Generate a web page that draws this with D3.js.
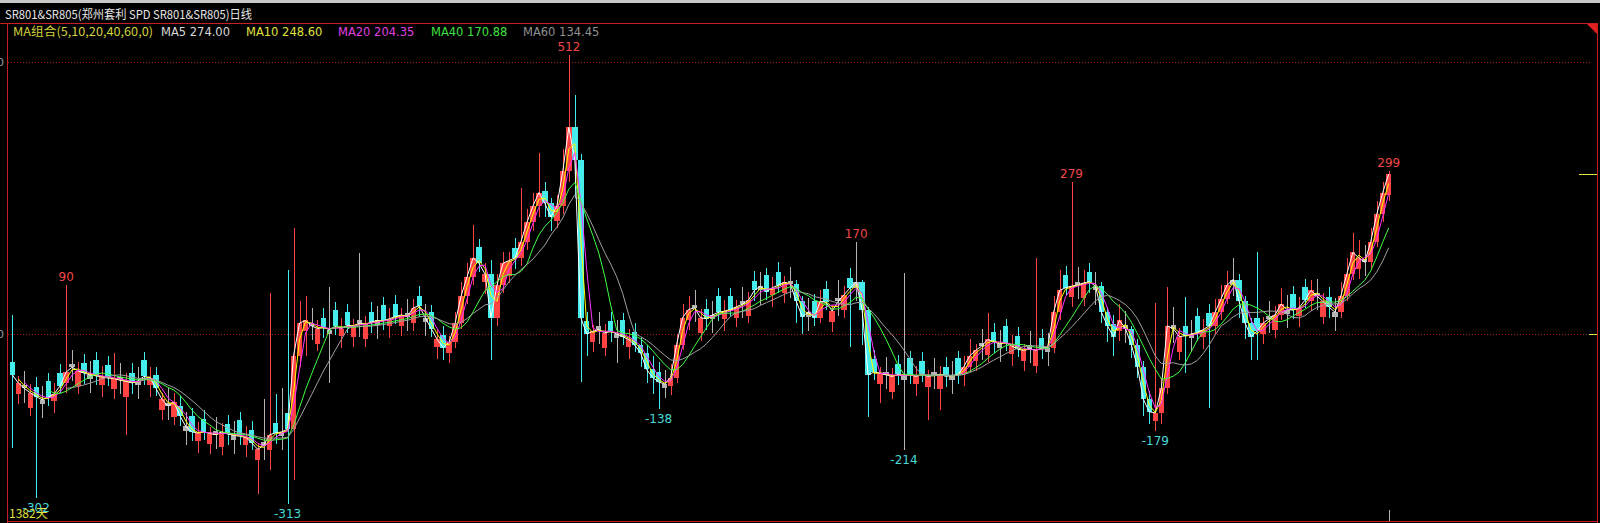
<!DOCTYPE html>
<html><head><meta charset="utf-8">
<script src="https://cdn.jsdelivr.net/npm/d3@7"></script>
<style>html,body{margin:0;padding:0;background:#000;overflow:hidden}</style>
</head><body><svg id="c" width="1600" height="523"></svg>
<script>
// 6-day aggregated bars (1382 daily bars in the original)
const opens = [
-51,-110,-94,-136,-97,-129,-86,-124,-71,-90,
-55,-96,-54,-83,-47,-93,-57,-102,-79,-115,
-72,-94,-48,-94,-76,-140,-126,-153,-132,-178,
-150,-196,-156,-203,-179,-208,-166,-194,-158,-204,
-176,-232,-199,-213,-164,-188,-145,-175,-40,5,
21,-18,30,0,44,-4,40,-5,26,-10,
40,17,54,14,56,15,38,20,70,22,
40,-24,-1,-35,-15,20,70,105,160,96,
110,30,90,107,158,140,170,205,235,262,
240,207,235,300,380,320,24,-15,14,-26,
23,-8,25,-24,4,-20,-35,-65,-70,-100,
-95,-80,-20,25,54,2,46,27,70,28,
69,30,61,34,98,80,108,71,114,75,
98,92,60,32,60,30,82,22,66,44,
103,85,95,45,-46,-92,-69,-106,-56,-84,
-45,-92,-50,-98,-70,-102,-60,-84,-45,-74,
-60,-50,-16,-38,3,-26,14,-36,-4,-50,
-21,-58,-8,-33,-25,40,109,68,96,66,
114,80,88,40,19,5,16,10,-20,-60,
-120,-160,-145,-100,16,-33,15,-8,33,-6,
39,15,40,65,90,100,60,20,29,0,
34,7,35,37,74,34,86,60,76,32,
68,32,40,70,110,120,138,132,170,220,
255];
const highs = [
35,-78,-68,-92,-79,-95,-72,-90,-55,90,
-29,-52,-36,-49,-33,-59,-41,-35,-53,-71,
-54,-60,-34,-60,-60,-108,-100,-109,-114,-144,
-136,-162,-140,-171,-153,-164,-148,-160,-144,-170,
-160,-200,-120,75,-110,-100,118,195,60,70,
47,26,48,86,58,30,56,27,149,34,
58,51,68,48,72,47,64,64,88,56,
54,10,15,-3,40,95,130,200,174,130,
136,110,150,151,176,268,230,260,333,280,
250,255,340,512,440,330,40,17,40,18,
41,26,39,10,20,-5,-20,-40,-52,-66,
-55,0,55,70,80,46,64,61,84,62,
85,62,87,78,116,114,122,105,132,107,
124,100,70,66,74,80,98,54,99,88,
121,170,100,50,-30,-60,-43,-62,-38,112,
-31,-58,-34,-66,-44,-58,-42,-50,-31,-40,
-10,-18,10,39,21,8,28,-2,12,-18,
5,140,10,1,70,118,125,279,123,118,
130,114,95,50,35,55,42,15,-10,-50,
-105,57,-80,86,50,11,68,26,47,28,
55,65,90,115,140,110,70,30,151,32,
60,51,85,71,88,68,102,100,102,76,
86,66,95,140,186,172,164,195,245,280,
299];
const lows = [
-210,-128,-126,-150,-302,-155,-132,-146,-109,-108,
-87,-110,-92,-109,-93,-115,-95,-120,-111,-186,
-110,-120,-94,-116,-114,-158,-158,-167,-170,-204,
-196,-218,-194,-221,-211,-222,-204,-220,-204,-226,
-214,-295,-231,-250,-202,-214,-313,-268,-60,-40,
-11,-32,-8,-90,-2,-26,2,-23,-6,-24,
2,-9,8,-8,18,-3,6,6,32,-4,
-6,-46,-48,-53,-25,10,55,90,114,74,
-48,15,75,93,120,125,155,190,215,215,
190,195,220,280,250,-88,-40,-33,-18,-40,
-15,-53,-21,-46,-34,-60,-90,-110,-138,-118,
-112,-90,-30,7,22,-12,8,1,24,6,
31,12,29,20,60,54,62,49,76,57,
66,20,0,6,14,20,44,4,34,30,
-24,60,-20,-153,-84,-127,-101,-120,-94,-214,
-91,-114,-88,-158,-102,-140,-98,-110,-91,-96,
-70,-68,-48,-52,-35,-52,-32,-58,-42,-68,
-53,-72,-46,-59,-35,25,71,50,64,52,
76,54,20,-15,-40,-13,-16,-45,-80,-150,
-165,-179,-165,-110,-16,-47,-72,-34,-13,-28,
-136,0,25,55,70,30,-10,-48,-48,-18,
2,-7,25,11,28,12,48,42,44,18,
30,6,30,60,100,102,106,120,160,205,
245];
const closes = [
-75,-90,-100,-108,-115,-121,-116,-110,-95,-70,
-61,-68,-72,-75,-77,-79,-81,-82,-85,-87,
-90,-86,-78,-80,-100,-120,-132,-125,-150,-170,
-180,-182,-180,-183,-185,-180,-184,-186,-188,-190,
-200,-212,-205,-185,-182,-180,-175,-40,20,25,
15,10,12,8,14,10,16,15,20,18,
22,25,24,28,32,35,32,48,52,30,
10,-10,-25,-15,20,70,105,140,130,110,
30,90,130,135,140,170,205,235,260,240,
215,235,300,380,320,30,0,5,8,2,
5,0,-5,-10,-20,-35,-65,-80,-88,-92,
-80,-20,30,45,48,30,28,35,40,42,
45,50,55,62,80,88,78,85,90,95,
92,60,32,40,30,60,58,42,60,72,
85,95,45,-75,-70,-72,-75,-78,-74,-76,
-75,-78,-74,-78,-76,-74,-78,-76,-75,-60,
-40,-30,-22,-10,-15,-18,-16,-22,-28,-30,
-27,-30,-26,-25,40,80,85,88,90,94,
96,88,40,15,-5,25,10,-20,-60,-120,
-143,-145,-100,15,10,-5,-3,0,3,8,
15,40,65,90,100,60,20,-5,5,20,
28,35,55,45,44,48,62,80,70,60,
50,40,70,110,150,140,132,170,220,260,
294];

const maNames = ["MA5","MA10","MA20","MA40","MA60"];
const maLegendValues = ["274.00","248.60","204.35","170.88","134.45"];
const maWindowsInBars = [1,2,3,7,10];   // 5,10,20,40,60 days over 6-day bars
const gridValues = [0, 500];
const markIndex = [4, 9, 46, 93, 108, 141, 149, 177, 191, 230];
const markType  = ["low","high","low","high","low","high","low","high","low","high"];
const titleText = "SR801&SR805(郑州套利 SPD SR801&SR805)日线";
const comboText = "MA组合(5,10,20,40,60,0)";
const dayCountText = "1382天";

const W = 1600, H = 523;
const svg = d3.select("#c");
const n = closes.length;
const x = d3.scaleBand().domain(d3.range(n)).range([9, 1392]).padding(0.1);
const cx = i => x(i) + x.bandwidth() / 2;
const y = d3.scaleLinear().domain([0, 500]).range([334, 62]);

svg.append("rect").attr("width", W).attr("height", H).attr("fill", "#000");
// title bar
svg.append("rect").attr("x",0).attr("y",0).attr("width",W).attr("height",3).attr("fill","#c8c8c8");
svg.append("text").attr("x",5).attr("y",19).attr("fill","#e6e6e6")
  .attr("font-family","'Noto Sans CJK SC', 'DejaVu Sans'").attr("font-size",12)
  .attr("textLength",247).attr("lengthAdjust","spacingAndGlyphs").text(titleText);

// grid lines
svg.selectAll(".grid").data(gridValues).enter().append("line")
  .attr("x1", 8).attr("x2", 1592).attr("y1", d => y(d) + 0.5).attr("y2", d => y(d) + 0.5)
  .attr("stroke", "#a81c1c").attr("stroke-dasharray", "1,2");
svg.selectAll(".glab").data(gridValues).enter().append("text")
  .attr("x", 4).attr("y", d => y(d) + 4).attr("text-anchor", "end")
  .attr("fill", "#a0a0a0").attr("font-family", "DejaVu Sans").attr("font-size", 11)
  .text(d => d);

// candles
const colorOf = i => {
  const d = closes[i] - opens[i];
  if (d > 10) return "#ff4242";
  if (d < -10) return "#44ecec";
  return "#b4b4b4";
};
const g = svg.append("g").attr("shape-rendering", "crispEdges");
g.selectAll(".wick").data(d3.range(n)).enter().append("line")
  .attr("x1", i => Math.round(cx(i)) + 0.5).attr("x2", i => Math.round(cx(i)) + 0.5)
  .attr("y1", i => y(highs[i])).attr("y2", i => y(lows[i]))
  .attr("stroke", colorOf).attr("stroke-width", 1);
g.selectAll(".body").data(d3.range(n)).enter().append("rect")
  .attr("x", i => x(i)).attr("width", x.bandwidth())
  .attr("y", i => y(Math.max(opens[i], closes[i])))
  .attr("height", i => Math.max(1, Math.abs(y(opens[i]) - y(closes[i]))))
  .attr("fill", colorOf);

// moving averages
const maColors = ["#ffffff", "#ffff00", "#ff30ff", "#40ff40", "#a0a0a0"];
maWindowsInBars.forEach((w, k) => {
  const pts = [];
  for (let i = w - 1; i < n; i++) {
    pts.push([cx(i), y(d3.mean(closes.slice(i - w + 1, i + 1)))]);
  }
  svg.append("path").attr("d", d3.line()(pts)).attr("fill", "none")
    .attr("stroke", maColors[k]).attr("stroke-width", 1);
});

// legend
const legFont = "'DejaVu Sans', Verdana, sans-serif";
svg.append("text").attr("x", 13).attr("y", 36).attr("fill", "#d2d23c")
  .attr("font-family", "'Noto Sans CJK SC', 'DejaVu Sans'").attr("font-size", 12)
  .attr("textLength", 140).attr("lengthAdjust", "spacingAndGlyphs").text(comboText);
const legX = [161, 246, 338, 431, 523];
const legColors = ["#d8d8d8", "#e0e040", "#e040e0", "#40e040", "#909090"];
maNames.forEach((nm, k) => {
  svg.append("text").attr("x", legX[k]).attr("y", 36).attr("fill", legColors[k])
    .attr("font-family", legFont).attr("font-size", 11.5).text(nm + " " + maLegendValues[k]);
});

// high / low marks
markIndex.forEach((i, k) => {
  const hi = markType[k] === "high";
  const v = hi ? highs[i] : lows[i];
  svg.append("text").attr("x", cx(i)).attr("y", hi ? y(v) - 4 : y(v) + 14)
    .attr("text-anchor", "middle").attr("fill", hi ? "#f04848" : "#48d8d8")
    .attr("font-family", legFont).attr("font-size", 12).text(v);
});

svg.append("text").attr("x", 9).attr("y", 518).attr("fill", "#e0e040")
  .attr("font-family", "'Noto Sans CJK SC', 'DejaVu Sans'").attr("font-size", 12).text(dayCountText);

// frame
const red = "#c81e1e";
const fr = svg.append("g").attr("shape-rendering", "crispEdges");
fr.append("line").attr("x1", 0).attr("x2", 1598).attr("y1", 23.5).attr("y2", 23.5).attr("stroke", red);
fr.append("line").attr("x1", 7.5).attr("x2", 7.5).attr("y1", 23).attr("y2", 523).attr("stroke", red);
fr.append("line").attr("x1", 1597.5).attr("x2", 1597.5).attr("y1", 23).attr("y2", 523).attr("stroke", red);
fr.append("line").attr("x1", 7).attr("x2", 1598).attr("y1", 521.5).attr("y2", 521.5).attr("stroke", red);
svg.append("path").attr("d", "M1587,24L1597,24L1597,34Z").attr("fill", "#e02020");
// right side markers
fr.append("line").attr("x1", 1579).attr("x2", 1597).attr("y1", Math.round(y(closes[n - 1])) + 0.5)
  .attr("y2", Math.round(y(closes[n - 1])) + 0.5).attr("stroke", "#e6e650");
fr.append("line").attr("x1", 1589).attr("x2", 1597).attr("y1", y(gridValues[0]) + 0.5)
  .attr("y2", y(gridValues[0]) + 0.5).attr("stroke", "#e6e650");
fr.append("line").attr("x1", Math.round(cx(n - 1)) + 0.5).attr("x2", Math.round(cx(n - 1)) + 0.5)
  .attr("y1", 510).attr("y2", 521).attr("stroke", "#b0b0b0");
</script></body></html>
